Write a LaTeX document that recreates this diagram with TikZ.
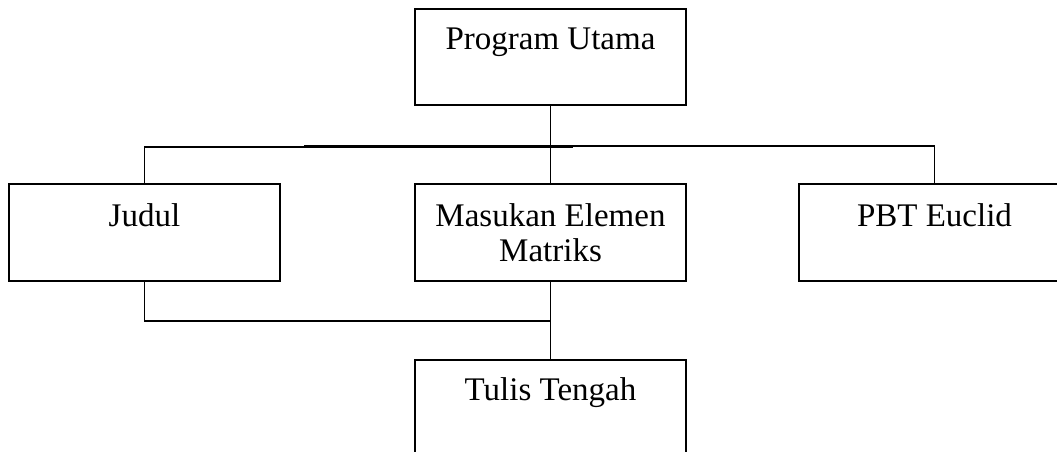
\documentclass[tikz,border=0pt]{standalone}
\usepackage{fontspec}
\setmainfont{Liberation Serif}
\usetikzlibrary{positioning}
\begin{document}
\begin{tikzpicture}[x=1pt, y=-1pt,
    modul/.style={draw, line width=1.9pt, minimum width=271pt, minimum height=97pt, inner sep=0pt, outer sep=0pt},
    teks/.style={anchor=north, inner sep=0pt, yshift=-19pt, align=center, font=\fontsize{33}{35}\selectfont},
    garis/.style={line width=1.6pt}]
\useasboundingbox (0,0) rectangle (1057,452);
% Modules
\node[modul, minimum height=96pt, label={[teks]north:Program Utama}] (utama) at (550.5,57) {};
\node[modul, below=79pt of utama, label={[teks]north:Masukan Elemen\\Matriks}] (masukan) {};
\node[modul, left=135pt of masukan, label={[teks]north:Judul}] (judul) {};
\node[modul, right=113pt of masukan, label={[teks]north:PBT Euclid}] (pbt) {};
\node[modul, below=79pt of masukan, label={[teks, yshift=2pt]north:Tulis Tengah}] (tulis) {};
% Junction points
\coordinate (busA) at (573,146.7);
\coordinate (busB) at (304,145.7);
\coordinate (simpul) at (550.5,321);
% Connections
\draw[garis] (utama.south) -- (masukan.north);
\draw[garis] (judul.north) |- (busA);
\draw[garis] (busB) -| (pbt.north);
\draw[garis] (judul.south) |- (simpul);
\draw[garis] (masukan.south) -- (tulis.north);
\end{tikzpicture}
\end{document}
